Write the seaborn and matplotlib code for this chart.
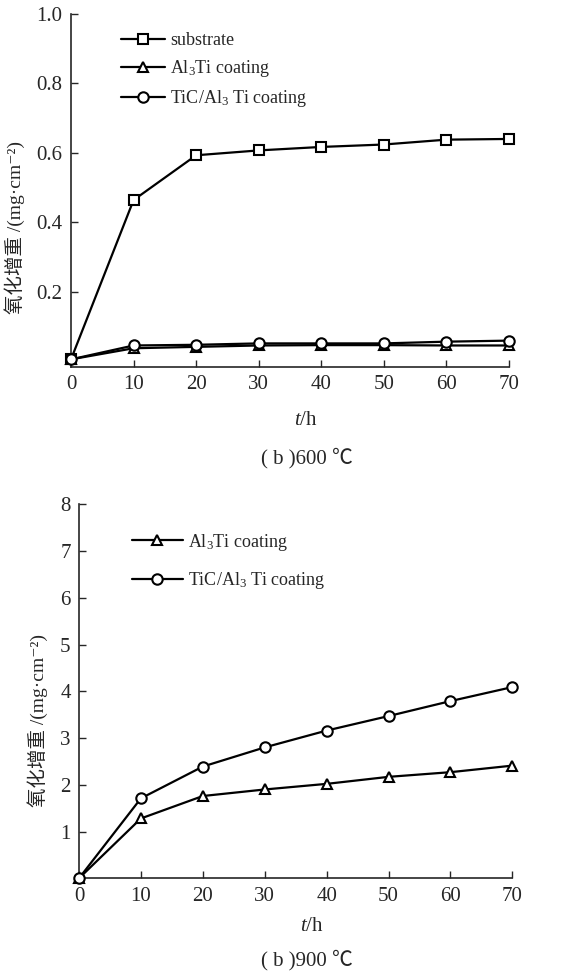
import numpy as np
import pandas as pd
import matplotlib
matplotlib.use('Agg')
import matplotlib.pyplot as plt
import seaborn as sns

sns.set_style('ticks')
plt.rcParams['font.family'] = ['Liberation Serif', 'Noto Sans CJK SC', 'DejaVu Sans']
plt.rcParams['mathtext.fontset'] = 'custom'
plt.rcParams['mathtext.rm'] = 'Liberation Serif'
plt.rcParams['mathtext.it'] = 'Liberation Serif:italic'
plt.rcParams['mathtext.bf'] = 'Liberation Serif:bold'

hours = [0, 10, 20, 30, 40, 50, 60, 70]

# 600 C
substrate_600 = [0.005, 0.464, 0.593, 0.607, 0.617, 0.624, 0.638, 0.640]
al3ti_600 = [0.005, 0.037, 0.041, 0.045, 0.046, 0.046, 0.045, 0.045]
tic_600 = [0.005, 0.045, 0.047, 0.051, 0.051, 0.051, 0.056, 0.059]

# 900 C
al3ti_900 = [0.0, 1.28, 1.76, 1.90, 2.02, 2.17, 2.27, 2.41]
tic_900 = [0.0, 1.71, 2.39, 2.80, 3.16, 3.47, 3.79, 4.09]

lbl_sub = 'substrate'
lbl_al = 'Al$_3$Ti coating'
lbl_tic = 'TiC/Al$_3$ Ti coating'
ylab = '氧化增重 /(mg·cm⁻²)'
xlab = '$t$/h'

fig = plt.figure(figsize=(5.73, 9.72), dpi=100)
ax1 = fig.add_axes([71/573, 1-367/972, (509-71)/573, (367-14)/972])
ax2 = fig.add_axes([79/573, 1-878.3/972, (512.3-79)/573, (878.3-504.3)/972])

def draw(ax, y, marker, label, ms):
    sns.lineplot(x=hours, y=y, ax=ax, color='black', lw=1.6, marker=marker,
                 markersize=ms, markerfacecolor='white', markeredgecolor='black',
                 markeredgewidth=1.5, label=label, clip_on=False, zorder=3)

draw(ax1, substrate_600, 's', lbl_sub, 7)
draw(ax1, al3ti_600, '^', lbl_al, 7.5)
draw(ax1, tic_600, 'o', lbl_tic, 7.5)

draw(ax2, al3ti_900, '^', lbl_al, 7.5)
draw(ax2, tic_900, 'o', lbl_tic, 7.5)

for ax in (ax1, ax2):
    sns.despine(ax=ax)
    ax.set_xlim(0, 70)
    ax.set_xticks(hours)
    ax.tick_params(direction='in', length=5, width=1, labelsize=15, pad=6)
    ax.spines['left'].set_linewidth(1.2)
    ax.spines['bottom'].set_linewidth(1.2)
    ax.set_ylabel(ylab, fontsize=14)
    ax.set_xlabel(xlab, fontsize=15)

ax1.set_ylim(-0.017, 1.0)
ax1.set_yticks([0.2, 0.4, 0.6, 0.8, 1.0])
ax1.set_yticklabels(['0.2', '0.4', '0.6', '0.8', '1.0'])
ax2.set_ylim(0, 8)
ax2.set_yticks([1, 2, 3, 4, 5, 6, 7, 8])

ax1.legend(loc='upper left', bbox_to_anchor=(0.078, 0.995), frameon=False, fontsize=13,
           handlelength=2.4, labelspacing=0.5, handletextpad=0.3)
ax2.legend(loc='upper left', bbox_to_anchor=(0.085, 0.97), frameon=False, fontsize=13,
           handlelength=2.8, labelspacing=0.95, handletextpad=0.3)

ax1.yaxis.set_label_coords(-0.105, 0.394)
ax2.yaxis.set_label_coords(-0.072, 0.423)
ax1.xaxis.set_label_coords(0.537, -0.125)
ax2.xaxis.set_label_coords(0.538, -0.103)

fig.text(307/573, 1 - 458/972, '( b )600 ℃', ha='center', va='center', fontsize=15)
fig.text(307/573, 1 - 960/972, '( b )900 ℃', ha='center', va='center', fontsize=15)

fig.savefig('out.png', dpi=100)
